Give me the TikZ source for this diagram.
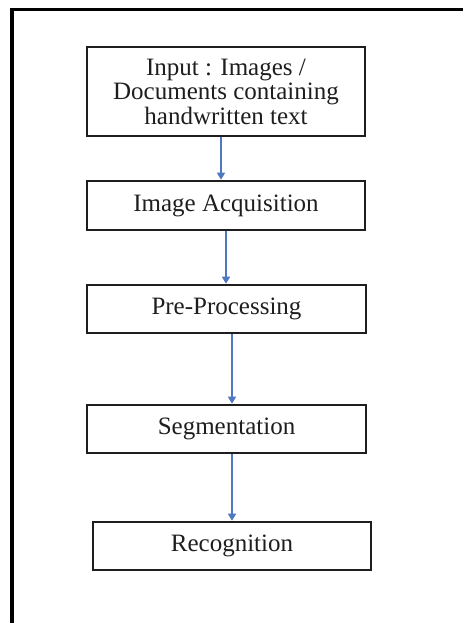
\documentclass[tikz,border=0pt]{standalone}
\usepackage{fontspec}
\setmainfont{Liberation Serif}
\usetikzlibrary{arrows.meta}
\definecolor{flowblue}{HTML}{4F77C2}
\definecolor{inkgray}{HTML}{1E1E1E}
\tikzset{
  stage/.style={draw=inkgray, line width=1.6pt, inner sep=0pt, align=center,
    text=inkgray, font=\fontsize{25}{24.5}\selectfont},
  flow/.style={draw=flowblue, line width=1.6pt,
    -{Triangle[width=8pt,length=7pt]}, shorten >=0.5pt},
  frame/.style={draw=black, line width=3.5pt}
}
\begin{document}
\begin{tikzpicture}[x=1pt,y=-1pt]
  \useasboundingbox (0,0) rectangle (463,623);
  % open frame: top and left edges only
  \coordinate (ftop) at (463,9.5);
  \coordinate (fcorner) at (12,9.5);
  \coordinate (fbottom) at (12,623);
  \draw[frame] (ftop) -- (fcorner) -- (fbottom);

  % process stages
  \node[stage, minimum width=278pt, minimum height=89pt] (input) at (226,91.5)
    {Input : Images /\\Documents containing\\handwritten text};
  \node[stage, minimum width=278pt, minimum height=49pt] (acq) at (226,205.5)
    {Image Acquisition};
  \node[stage, minimum width=279pt, minimum height=48pt] (pre) at (226.5,309)
    {Pre-Processing};
  \node[stage, minimum width=279pt, minimum height=48pt] (seg) at (226.5,429)
    {Segmentation};
  \node[stage, minimum width=278pt, minimum height=48pt] (rec) at (232,546)
    {Recognition};

  % connectors between stages
  \draw[flow] ([xshift=-5pt]input.south) -- ([xshift=-5pt]acq.north);
  \draw[flow] (acq.south) -- (acq.south |- pre.north);
  \draw[flow] ([xshift=5.5pt]pre.south) -- ([xshift=5.5pt]seg.north);
  \draw[flow] ([xshift=5.5pt]seg.south) -- (rec.north);
\end{tikzpicture}
\end{document}
